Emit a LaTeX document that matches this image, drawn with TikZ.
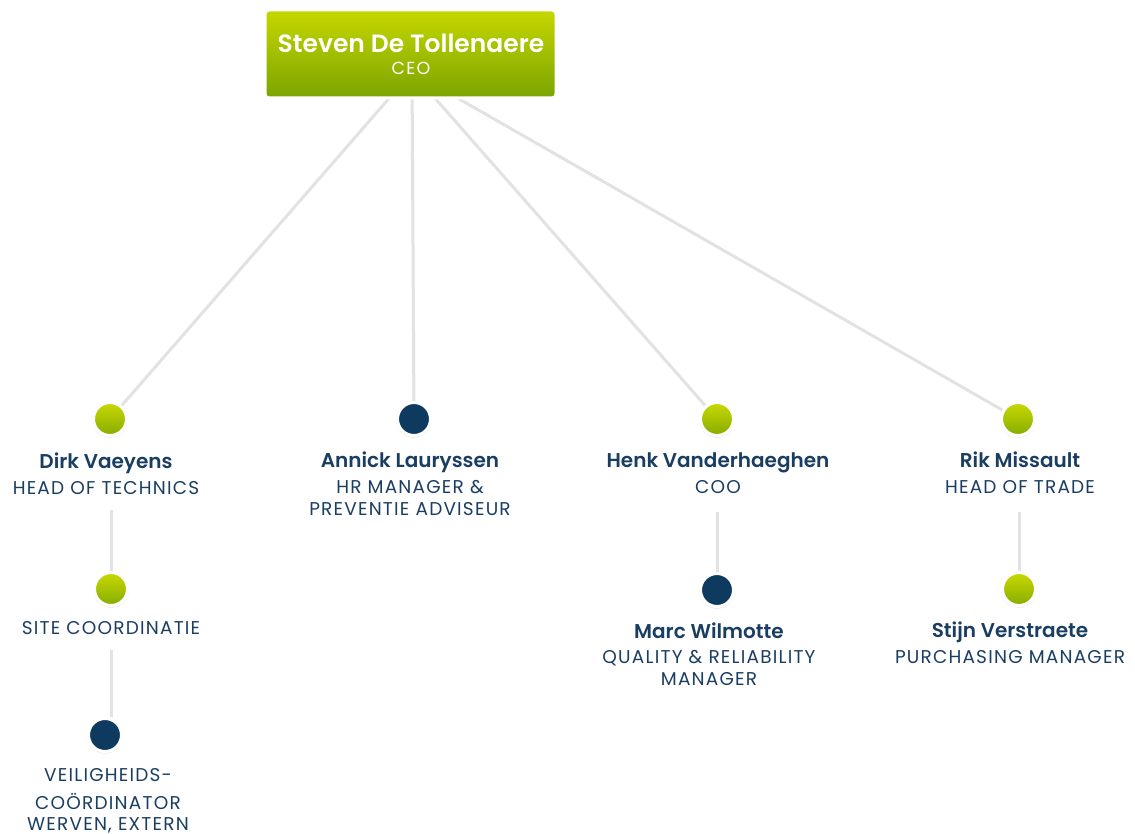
\documentclass[tikz,border=0pt]{standalone}
\usepackage{fontspec}
\setmainfont{Poppins}[BoldFont={Poppins SemiBold}]
\newfontfamily\widefont{Poppins}[LetterSpace=6.5]
\usetikzlibrary{positioning, shadows, backgrounds}

\definecolor{navy}{HTML}{1A3E62}
\definecolor{dotnavy}{HTML}{0E3A60}
\definecolor{dottop}{HTML}{C9D900}
\definecolor{dotbot}{HTML}{86AC00}
\definecolor{ceotop}{HTML}{C6D700}
\definecolor{ceobot}{HTML}{7BA400}
\definecolor{linegray}{HTML}{E2E2E2}

\begin{document}
\begin{tikzpicture}[x=1pt, y=-1pt,
    link/.style={draw=linegray, line width=3pt},
    dotbase/.style={circle, minimum size=33pt, inner sep=0pt, draw=white, line width=3pt,
      drop shadow={opacity=0.12, shadow xshift=0pt, shadow yshift=-1pt, shadow scale=1.08}},
    gdot/.style={dotbase, top color=dottop, bottom color=dotbot},
    ndot/.style={dotbase, fill=dotnavy},
    person/.style={anchor=base, inner sep=0pt, text=navy, font=\fontsize{20}{22}\selectfont\bfseries},
    role/.style={anchor=base, inner sep=0pt, text=navy, align=center, font=\widefont\fontsize{18.5}{22}\selectfont}]

    \useasboundingbox (0,0) rectangle (1135,834);

    % CEO block
    \node[draw=white, line width=3pt, rounded corners=4pt, top color=ceotop, bottom color=ceobot,
      minimum width=291pt, minimum height=88pt, drop shadow={opacity=0.12, shadow xshift=0pt, shadow yshift=-1pt}]
      (ceo) at (410.5,54) {};
    \node[text=white, font=\fontsize{25}{28}\selectfont\bfseries, anchor=base, inner sep=0pt] (ceoname) at (411,53) {Steven De Tollenaere};
    \node[text=white, font=\widefont\fontsize{17.5}{20}\selectfont, anchor=base, inner sep=0pt] (ceorole) at (411,75) {CEO};
    \coordinate (hub) at (412,72);

    % Direct reports
    \node[gdot] (dirk) at (110,419) {};
    \node[ndot] (annick) at (414,419) {};
    \node[gdot] (henk) at (717,419) {};
    \node[gdot] (rik) at (1018,419) {};

    \node[person] (dirkname) at (106,468) {Dirk Vaeyens};
    \node[role] (dirkrole) at (106,494) {HEAD OF TECHNICS};
    \node[person] (annickname) at (410,467) {Annick Lauryssen};
    \node[role] (annickrole) at (410,515) {HR MANAGER \&\\PREVENTIE ADVISEUR};
    \node[person] (henkname) at (718,467) {Henk Vanderhaeghen};
    \node[role] (henkrole) at (718,493) {COO};
    \node[person] (rikname) at (1020,467) {Rik Missault};
    \node[role] (rikrole) at (1020,493) {HEAD OF TRADE};

    % Second level
    \node[gdot] (site) at (111,589) {};
    \node[ndot] (safety) at (105,735) {};
    \node[ndot] (marc) at (717,590) {};
    \node[gdot] (stijn) at (1019,589) {};

    \node[role] (siterole) at (111,634) {SITE COORDINATIE};
    \node[role] (safetyrole) at (108,830) {VEILIGHEIDS-\\[6pt]CO\"ORDINATOR\\[-1pt]WERVEN, EXTERN};
    \node[person] (marcname) at (709,638) {Marc Wilmotte};
    \node[role] (marcrole) at (709,685) {QUALITY \& RELIABILITY\\MANAGER};
    \node[person] (stijnname) at (1010,637) {Stijn Verstraete};
    \node[role] (stijnrole) at (1010,663) {PURCHASING MANAGER};

    % Connections
    \begin{scope}[on background layer]
      \draw[link] (hub) -- (dirk);
      \draw[link] (hub) -- (annick);
      \draw[link] (hub) -- (henk);
      \draw[link] (hub) -- (rik);
    \end{scope}
    \draw[link] (site |- 0,510) -- (site);
    \draw[link] (site |- 0,650) -- (site |- safety.north);
    \draw[link] (marc |- 0,512) -- (marc);
    \draw[link] (stijn |- 0,512) -- (stijn);

\end{tikzpicture}
\end{document}
